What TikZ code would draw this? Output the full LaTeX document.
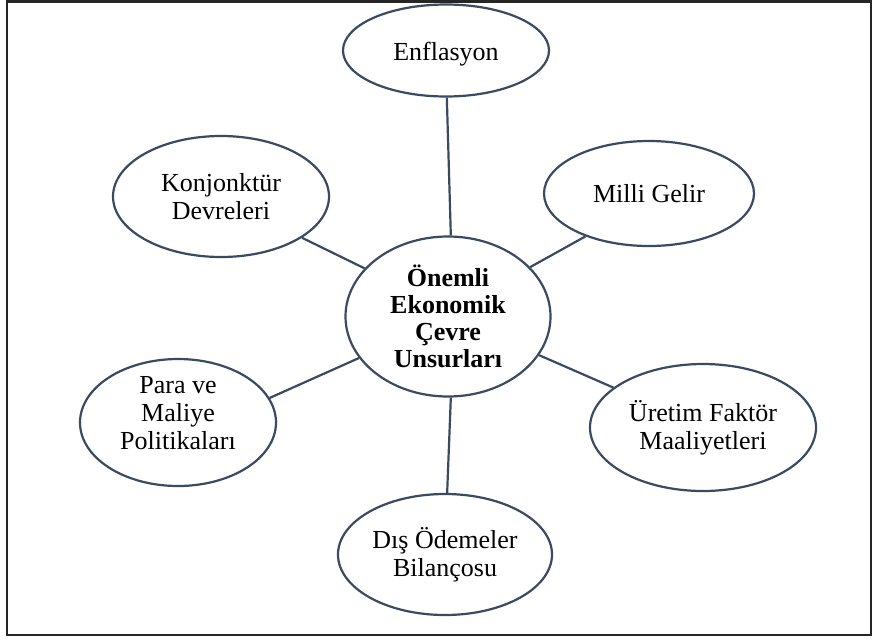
\documentclass[tikz,border=0pt]{standalone}
\usepackage{fontspec}
\setmainfont{Liberation Serif}
\usetikzlibrary{shapes.geometric}
\definecolor{slate}{HTML}{3B4A60}
\begin{document}
\begin{tikzpicture}[x=1pt,y=-1pt,
  bubble/.style={ellipse, draw=slate, line width=2.2pt, fill=white,
    inner sep=0pt, align=center, font=\fontsize{26}{28}\selectfont},
  caption/.style={inner sep=0pt, align=center, font=\fontsize{26}{28}\selectfont},
  hub/.style={bubble, font=\bfseries\fontsize{26}{27}\selectfont},
  link/.style={draw=slate, line width=2.2pt}]
\useasboundingbox (0,0) rectangle (877,641);
% outer frame
\draw[line width=2.5pt, black!85] (7,1.5) rectangle (871,635);

% central topic
\node[hub, minimum width=205pt, minimum height=160pt] (cen) at (448,316.5)
  {Önemli\\Ekonomik\\Çevre\\Unsurları};

% surrounding factors
\node[bubble, minimum width=206pt, minimum height=92pt]  (enf) at (446,50.5)  {};
\node[caption] (enftxt) at (446,54) {Enflasyon};
\node[bubble, minimum width=210pt, minimum height=105pt] (mil) at (649,193.5) {Milli Gelir};
\node[bubble, minimum width=216pt, minimum height=121pt] (kon) at (221,196.5) {Konjonktür\\Devreleri};
\node[bubble, minimum width=196pt, minimum height=127pt] (par) at (178,422.5) {};
\node[caption] (partxt) at (178,413) {Para ve\\Maliye\\Politikaları};
\node[bubble, minimum width=226pt, minimum height=127pt] (ure) at (703,427.5) {Üretim Faktör\\Maaliyetleri};
\node[bubble, minimum width=214pt, minimum height=121pt] (dis) at (445,554.5) {Dış Ödemeler\\Bilançosu};

% spokes
\draw[link] (enf.-89)   -- (cen.88);
\draw[link] (mil.-146)  -- (cen.31);
\draw[link] (kon.-27)   -- (cen.150);
\draw[link] (par.15)    -- (cen.205);
\draw[link] (ure.156)   -- (cen.-23);
\draw[link] (dis.88)    -- (cen.-88);
\end{tikzpicture}
\end{document}
